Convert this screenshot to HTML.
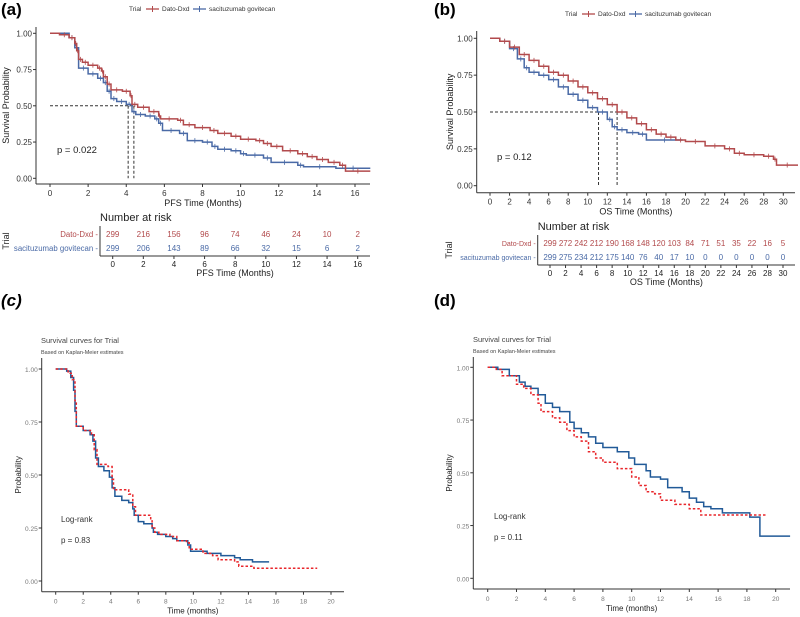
<!DOCTYPE html>
<html><head><meta charset="utf-8"><style>
html,body{margin:0;padding:0;background:#fff;}
svg{display:block;font-family:"Liberation Sans",Arial,sans-serif;}
</style></head><body>
<svg id="s" width="800" height="617" viewBox="0 0 800 617"></svg>
<script>
// ---------- DATA ----------
const aDatoT=[0,0.5,1,1.3,1.4,1.5,1.7,2,2.5,2.7,2.8,3,3.2,3.8,4.2,4.3,4.6,5.2,5.7,5.8,6.7,7,7.6,8.4,8.8,9.5,10,10.8,11.2,11.6,12.2,13,13.5,14,14.6,15.2,15.5,16.8];
const aDatoS=[1,0.99,0.97,0.93,0.88,0.82,0.80,0.78,0.76,0.74,0.70,0.65,0.61,0.60,0.57,0.51,0.49,0.46,0.43,0.41,0.40,0.37,0.35,0.33,0.31,0.29,0.27,0.26,0.24,0.22,0.19,0.17,0.15,0.13,0.11,0.09,0.05,0.05];
const aSgT=[0,1,1.3,1.5,2,2.5,2.8,3,3.2,3.5,4,4.3,4.5,5,5.5,5.7,5.9,6.8,7.2,8,8.5,8.8,9.5,10,10.3,11.2,11.6,13,13.3,15,16.8];
const aSgS=[1,0.97,0.9,0.76,0.72,0.69,0.66,0.6,0.55,0.53,0.51,0.46,0.44,0.43,0.41,0.38,0.33,0.31,0.26,0.25,0.22,0.20,0.19,0.17,0.16,0.14,0.11,0.09,0.08,0.07,0.07];
const bDatoT=[0,1,2,3,4,5,6,7,8,9,10,11,12,13,14,15,16,17,18,19,20,22,24,25,26,28,29,29.3,31.5];
const bDatoS=[1,0.98,0.94,0.89,0.85,0.81,0.77,0.75,0.71,0.67,0.63,0.59,0.55,0.50,0.46,0.42,0.38,0.35,0.33,0.31,0.30,0.27,0.25,0.22,0.21,0.20,0.18,0.14,0.14];
const bSgT=[0,1,2,2.8,3.5,4,5,6,7,8,9,10,11,12,12.5,13,14,15.2,16,19.7];
const bSgS=[1,0.98,0.93,0.86,0.80,0.77,0.75,0.72,0.67,0.62,0.58,0.53,0.50,0.45,0.40,0.38,0.36,0.35,0.31,0.31];
const cBlueT=[0,0.8,1.1,1.3,1.4,1.5,2,2.5,2.7,2.9,3.1,3.5,3.9,4.1,4.3,4.8,5.3,5.6,5.7,6,6.4,7,7.1,7.4,8,8.5,8.8,9.6,9.8,11,12,13,13.4,14.3,15.5];
const cBlueS=[1,0.99,0.96,0.9,0.8,0.73,0.71,0.69,0.66,0.58,0.54,0.52,0.49,0.44,0.40,0.38,0.37,0.34,0.31,0.28,0.27,0.25,0.23,0.22,0.21,0.20,0.19,0.17,0.14,0.13,0.12,0.11,0.10,0.09,0.09];
const cRedT=[0,0.9,1.2,1.4,1.5,2,2.6,2.8,3,3.8,4.1,4.2,5.3,5.6,5.8,6.9,7,7.2,7.5,8.3,8.8,9.5,9.7,10.7,11.4,11.8,13,13.3,14.4,19];
const cRedS=[1,0.98,0.95,0.85,0.73,0.71,0.69,0.62,0.55,0.54,0.48,0.43,0.41,0.35,0.31,0.29,0.25,0.23,0.22,0.21,0.19,0.18,0.15,0.13,0.12,0.10,0.09,0.07,0.06,0.06];
const dBlueT=[0,0.7,1.5,2.2,2.6,3,3.5,4,4.5,5,5.7,6,6.5,7,7.5,8,9,9.8,10.2,11,11.3,12,12.5,13.5,14,14.5,15,15.5,16.3,18.2,18.9,21];
const dBlueS=[1,0.99,0.96,0.93,0.91,0.90,0.87,0.83,0.81,0.79,0.74,0.71,0.69,0.67,0.64,0.62,0.60,0.57,0.54,0.51,0.48,0.47,0.43,0.41,0.38,0.36,0.34,0.33,0.31,0.29,0.20,0.20];
const dRedT=[0,0.6,1,2,2.5,3,3.5,3.7,4.5,5,5.5,6,6.5,7,7.5,8,9,10,10.5,11,11.6,12,13,14,14.8,19.3];
const dRedS=[1,0.99,0.96,0.92,0.90,0.87,0.83,0.79,0.76,0.74,0.70,0.67,0.65,0.60,0.57,0.55,0.52,0.48,0.44,0.41,0.40,0.37,0.35,0.33,0.30,0.30];
const aRiskTimes=[0,2,4,6,8,10,12,14,16];
const aRiskDato=[299,216,156,96,74,46,24,10,2];
const aRiskSg=[299,206,143,89,66,32,15,6,2];
const bRiskTimes=[0,2,4,6,8,10,12,14,16,18,20,22,24,26,28,30];
const bRiskDato=[299,272,242,212,190,168,148,120,103,84,71,51,35,22,16,5];
const bRiskSg=[299,275,234,212,175,140,76,40,17,10,0,0,0,0,0,0];
const yTicks=[0,0.25,0.5,0.75,1];
const yTickLabels=["0.00","0.25","0.50","0.75","1.00"];

// ---------- HELPERS ----------
const NS="http://www.w3.org/2000/svg", S=document.getElementById('s');
function el(tag,attrs,parent,text){const e=document.createElementNS(NS,tag);for(const k in attrs)e.setAttribute(k,attrs[k]);if(text!==undefined)e.textContent=text;(parent||S).appendChild(e);return e;}
function grp(name){const g=el('g',{});return g;}
function scale(d0,d1,r0,r1){return v=>r0+(v-d0)/(d1-d0)*(r1-r0);}
function stepPath(T,Sv,X,Y){let d='M'+X(T[0]).toFixed(1)+','+Y(Sv[0]).toFixed(1);for(let i=1;i<T.length;i++){d+='H'+X(T[i]).toFixed(1)+'V'+Y(Sv[i]).toFixed(1);}return d;}
function axes(g,X,Y,cfg){
  el('line',{x1:cfg.left,y1:cfg.top,x2:cfg.left,y2:cfg.bottom,stroke:'#333','stroke-width':1},g);
  el('line',{x1:cfg.left,y1:cfg.bottom,x2:cfg.right,y2:cfg.bottom,stroke:'#333','stroke-width':1},g);
  yTicks.forEach((v,i)=>{const y=Y(v);el('line',{x1:cfg.left-3,y1:y,x2:cfg.left,y2:y,stroke:'#333'},g);
    const t=el('text',{x:cfg.left-4,y:y+3,'font-size':cfg.fs,'text-anchor':'end',fill:cfg.tc},g,yTickLabels[i]);});
  cfg.xt.forEach(v=>{const x=X(v);el('line',{x1:x,y1:cfg.bottom,x2:x,y2:cfg.bottom+3,stroke:'#333'},g);
    const t=el('text',{x:x,y:cfg.bottom+12,'font-size':cfg.fs,'text-anchor':'middle',fill:cfg.tc},g,String(v));});
  const xt=el('text',{x:(cfg.left+cfg.right)/2,y:cfg.bottom+22,'font-size':cfg.lfs,'text-anchor':'middle',fill:'#222'},g,cfg.xl);
  
  const yt=el('text',{x:0,y:0,'font-size':cfg.lfs,'text-anchor':'middle',fill:'#222',transform:`translate(${cfg.ylx},${(cfg.top+cfg.bottom)/2}) rotate(-90)`},g,cfg.yl);
  
}
function series(g,T,Sv,X,Y,color,name,opts){
  const p=el('path',{d:stepPath(T,Sv,X,Y),fill:'none',stroke:color,'stroke-width':opts.w||1.3,'stroke-dasharray':opts.dash||'none'},g);
  
  if(opts.censor){for(let i=1;i<T.length-1;i++){const x=(X(T[i])+X(T[i+1]))/2,y=Y(Sv[i]);
    const c=el('line',{x1:x,y1:y-2.5,x2:x,y2:y+2.5,stroke:color,'stroke-width':0.8},g);}}
}
function legendTop(g,x,y,red,blue){
  el('text',{x:x,y:y,'font-size':6.5,fill:'#333'},g,'Trial');
  el('line',{x1:x+17,y1:y-2,x2:x+30,y2:y-2,stroke:red,'stroke-width':1.3},g);el('line',{x1:x+23.5,y1:y-5,x2:x+23.5,y2:y+1,stroke:red},g);
  const l1=el('text',{x:x+33,y:y,'font-size':6.5,fill:'#333'},g,'Dato-Dxd');
  el('line',{x1:x+64,y1:y-2,x2:x+77,y2:y-2,stroke:blue,'stroke-width':1.3},g);el('line',{x1:x+70.5,y1:y-5,x2:x+70.5,y2:y+1,stroke:blue},g);
  const l2=el('text',{x:x+80,y:y,'font-size':6.5,fill:'#333'},g,'sacituzumab govitecan');
}
function riskTable(g,cfg,times,dato,sg,red,blue){
  const X=scale(cfg.t0,cfg.t1,cfg.x0,cfg.x1);
  const h=el('text',{x:cfg.left,y:cfg.hy,'font-size':11,fill:'#222'},g,'Number at risk');
  el('line',{x1:cfg.left,y1:cfg.r1-8,x2:cfg.left,y2:cfg.axis,stroke:'#333'},g);
  el('line',{x1:cfg.left,y1:cfg.axis,x2:cfg.right,y2:cfg.axis,stroke:'#333'},g);
  el('text',{x:cfg.left-2,y:cfg.r1+3,'font-size':cfg.lf,fill:red,'text-anchor':'end'},g,'Dato-Dxd -');
  el('text',{x:cfg.left-2,y:cfg.r2+3,'font-size':cfg.lf,fill:blue,'text-anchor':'end'},g,'sacituzumab govitecan -');
  el('text',{x:0,y:0,'font-size':9,fill:'#222','text-anchor':'middle',transform:`translate(${cfg.tlx},${(cfg.r1+cfg.r2)/2}) rotate(-90)`},g,'Trial');
  times.forEach((t,i)=>{const x=X(t);
    const a=el('text',{x:x,y:cfg.r1+3,'font-size':8,fill:red,'text-anchor':'middle'},g,String(dato[i]));
    const b=el('text',{x:x,y:cfg.r2+3,'font-size':8,fill:blue,'text-anchor':'middle'},g,String(sg[i]));
    el('line',{x1:x,y1:cfg.axis,x2:x,y2:cfg.axis+3,stroke:'#333'},g);
    el('text',{x:x,y:cfg.axis+11,'font-size':8,fill:'#222','text-anchor':'middle'},g,String(t));});
  el('text',{x:(cfg.left+cfg.right)/2,y:cfg.axis+20,'font-size':9,fill:'#222','text-anchor':'middle'},g,cfg.xl);
}
const RED='#b24a4c', BLUE='#4a6aa6', CRED='#e8262b', CBLUE='#215a98';

// ---------- PANEL A ----------
(function(){const g=grp('panel-a');
  el('text',{x:1,y:15,'font-size':17,'font-weight':'bold',fill:'#000'},g,'(a)');
  legendTop(g,129,11,RED,BLUE);
  const X=scale(0,16,50,355),Y=scale(0,1,178.3,33.3);
  axes(g,X,Y,{left:36,right:370,top:27,bottom:184,fs:8,lfs:9,tc:'#333',xt:[0,2,4,6,8,10,12,14,16],xl:'PFS Time (Months)',yl:'Survival Probability',ylx:9});
  el('path',{d:`M${X(0)},${Y(0.5)}H${X(4.4)}M${X(4.1)},${Y(0.5)}V${Y(0)}M${X(4.4)},${Y(0.5)}V${Y(0)}`,stroke:'#333','stroke-dasharray':'3,2',fill:'none'},g);
  series(g,aSgT,aSgS,X,Y,BLUE,'sacituzumab-curve',{censor:true,w:1.5});
  series(g,aDatoT,aDatoS,X,Y,RED,'dato-curve',{censor:true,w:1.5});
  const p=el('text',{x:57,y:153,'font-size':9.5,fill:'#222'},g,'p = 0.022');
  riskTable(g,{t0:0,t1:16,x0:112.7,x1:357.7,left:100,right:370,hy:221,r1:234,r2:248,axis:256,tlx:9,lf:7.8,xl:'PFS Time (Months)'},aRiskTimes,aRiskDato,aRiskSg,RED,BLUE);
})();
// ---------- PANEL B ----------
(function(){const g=grp('panel-b');
  el('text',{x:434,y:15,'font-size':17,'font-weight':'bold',fill:'#000'},g,'(b)');
  legendTop(g,565,16,RED,BLUE);
  const X=scale(0,30,490,783.3),Y=scale(0,1,185.7,38.3);
  axes(g,X,Y,{left:476.7,right:795,top:31,bottom:192.7,fs:8,lfs:9,tc:'#333',xt:[0,2,4,6,8,10,12,14,16,18,20,22,24,26,28,30],xl:'OS Time (Months)',yl:'Survival Probability',ylx:453});
  el('path',{d:`M${X(0)},${Y(0.5)}H${X(13)}M${X(11.1)},${Y(0.5)}V${Y(0)}M${X(13)},${Y(0.5)}V${Y(0)}`,stroke:'#333','stroke-dasharray':'3,2',fill:'none'},g);
  series(g,bSgT,bSgS,X,Y,BLUE,'sacituzumab-curve',{censor:true,w:1.5});
  series(g,bDatoT,bDatoS,X,Y,RED,'dato-curve',{censor:true,w:1.5});
  const p=el('text',{x:497,y:160,'font-size':9.5,fill:'#222'},g,'p = 0.12');
  riskTable(g,{t0:0,t1:30,x0:550,x1:783,left:537.7,right:795,hy:230,r1:243,r2:257,axis:265,tlx:452,lf:7,xl:'OS Time (Months)'},bRiskTimes,bRiskDato,bRiskSg,RED,BLUE);
})();
// ---------- PANEL C ----------
(function(){const g=grp('panel-c');
  el('text',{x:1,y:306,'font-size':17,'font-weight':'bold','font-style':'italic',fill:'#000'},g,'(c)');
  el('text',{x:41,y:343,'font-size':7.5,fill:'#444'},g,'Survival curves for Trial');
  el('text',{x:41,y:354,'font-size':5.5,fill:'#444'},g,'Based on Kaplan-Meier estimates');
  const X=scale(0,20,55.7,331),Y=scale(0,1,581,369);
  axes(g,X,Y,{left:41.7,right:344,top:358,bottom:591.7,fs:6.5,lfs:8,tc:'#777',xt:[0,2,4,6,8,10,12,14,16,18,20],xl:'Time (months)',yl:'Probability',ylx:21});
  series(g,cBlueT,cBlueS,X,Y,CBLUE,'blue-curve',{w:1.5});
  series(g,cRedT,cRedS,X,Y,CRED,'red-dashed-curve',{w:1.5,dash:'2.5,2'});
  el('text',{x:61,y:522,'font-size':8,fill:'#333'},g,'Log-rank');
  const p=el('text',{x:61,y:543,'font-size':8,fill:'#333'},g,'p = 0.83');
})();
// ---------- PANEL D ----------
(function(){const g=grp('panel-d');
  el('text',{x:434,y:306,'font-size':17,'font-weight':'bold',fill:'#000'},g,'(d)');
  el('text',{x:473,y:342,'font-size':7.5,fill:'#444'},g,'Survival curves for Trial');
  el('text',{x:473,y:353,'font-size':5.5,fill:'#444'},g,'Based on Kaplan-Meier estimates');
  const X=scale(0,20,487.7,775.7),Y=scale(0,1,578.3,367.3);
  axes(g,X,Y,{left:473.3,right:790,top:357,bottom:589,fs:6.5,lfs:8,tc:'#777',xt:[0,2,4,6,8,10,12,14,16,18,20],xl:'Time (months)',yl:'Probability',ylx:452});
  series(g,dBlueT,dBlueS,X,Y,CBLUE,'blue-curve',{w:1.5});
  series(g,dRedT,dRedS,X,Y,CRED,'red-dashed-curve',{w:1.5,dash:'2.5,2'});
  el('text',{x:494,y:519,'font-size':8,fill:'#333'},g,'Log-rank');
  const p=el('text',{x:494,y:540,'font-size':8,fill:'#333'},g,'p = 0.11');
})();
</script>
</body></html>
